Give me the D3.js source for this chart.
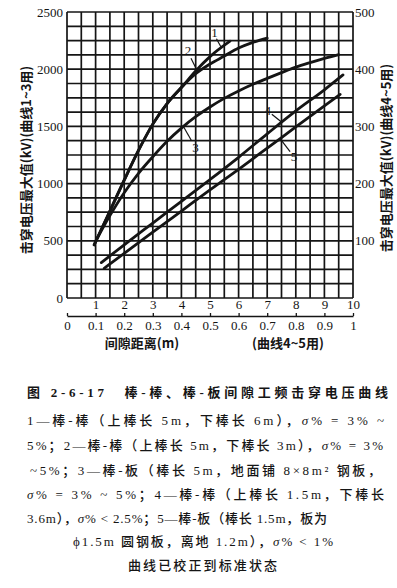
<!DOCTYPE html>
<html>
<head>
<meta charset="utf-8">
<script src="https://cdn.jsdelivr.net/npm/d3@7"></script>
<style>
body { margin: 0; background: #fff; }
svg { display: block; }
</style>
</head>
<body>
<div id="chart"></div>
<script>
// curves 1-3: gap (m, 1..10) vs kV, left axis
const curve1 = [[0.95,465],[1.5,760],[2.0,1030],[2.5,1290],[3.0,1520],[3.5,1700],[4.0,1840],[4.5,1985],[5.0,2110],[5.7,2245]];
const curve2 = [[0.95,465],[1.5,760],[2.0,1030],[2.5,1290],[3.0,1520],[3.5,1700],[4.0,1840],[4.5,1960],[5.0,2045],[5.5,2115],[6.0,2185],[6.5,2235],[7.0,2272]];
const curve3 = [[1.02,505],[1.5,720],[2.0,920],[2.5,1090],[3.0,1235],[3.5,1370],[4.0,1485],[4.5,1585],[5.0,1670],[5.5,1745],[6.0,1810],[6.5,1868],[7.0,1920],[7.5,1970],[8.0,2018],[8.5,2058],[9.0,2095],[9.5,2128]];
// curves 4-5: gap (m, 0.1..1) vs kV, right axis
const curve4 = [[0.12,62],[0.2,93],[0.3,131],[0.4,169],[0.5,207],[0.6,246],[0.7,287],[0.8,327],[0.9,364],[0.965,390]];
const curve5 = [[0.13,52],[0.2,78],[0.3,115],[0.4,152],[0.5,189],[0.6,225],[0.7,262],[0.8,299],[0.9,336],[0.955,356]];

const leftTicks = [0, 500, 1000, 1500, 2000, 2500];
const rightTicks = [100, 200, 300, 400, 500];
const topTicks = [1, 2, 3, 4, 5, 6, 7, 8, 9, 10];
const bottomTicks = [0, 0.1, 0.2, 0.3, 0.4, 0.5, 0.6, 0.7, 0.8, 0.9, 1];

const leftTitle = "击穿电压最大值(kV)(曲线1~3用)";
const rightTitle = "击穿电压最大值(kV)(曲线4~5用)";
const xTitle = "间隙距离(m)";
const xTitle2 = "(曲线4~5用)";

const captionLines = [
  "图 2-6-17　棒-棒、棒-板间隙工频击穿电压曲线",
  "1—棒-棒（上棒长 5m，下棒长 6m），σ% = 3% ~",
  "5%；2—棒-棒（上棒长 5m，下棒长 3m），σ% = 3%",
  "~5%；3—棒-板（棒长 5m，地面铺 8×8m² 钢板，",
  "σ% = 3% ~ 5%；4—棒-棒（上棒长 1.5m，下棒长",
  "3.6m），σ% < 2.5%；5—棒-板（棒长 1.5m，板为",
  "ϕ1.5m 圆钢板，离地 1.2m），σ% < 1%",
  "曲线已校正到标准状态"
];

// layout
const W = 397, H = 588;
const plot = {left: 67, right: 353, top: 12, bottom: 298};
// [x start, x end, baseline] for each caption line
const captionLayout = [[27,388,397],[27,384,425],[27,383,450],[30,381,475],[27,384,499],[27,327,523],[73,333,546],[128,277,570]];

const svg = d3.select("#chart").append("svg")
    .attr("width", W)
    .attr("height", H)
    .style("background", "#fff");

const x = d3.scaleLinear().domain([0, 10]).range([plot.left, plot.right]);
const x2 = d3.scaleLinear().domain([0, 1]).range([plot.left, plot.right]);
const yL = d3.scaleLinear().domain([0, 2500]).range([plot.bottom, plot.top]);
const yR = d3.scaleLinear().domain([0, 500]).range([plot.bottom, plot.top]);

const ink = "#151515";
const serif = "Liberation Serif, Times New Roman, DejaVu Serif, Noto Sans CJK SC, serif";
const hei = "Noto Sans CJK SC, sans-serif";

// grid
const grid = svg.append("g").attr("stroke", ink).attr("stroke-width", 1.7);
grid.selectAll("line.v").data(d3.range(0, 10.01, 0.5)).enter().append("line")
    .attr("x1", d => x(d)).attr("x2", d => x(d))
    .attr("y1", plot.top).attr("y2", plot.bottom);
grid.selectAll("line.h").data(d3.range(0, 2501, 125)).enter().append("line")
    .attr("y1", d => yL(d)).attr("y2", d => yL(d))
    .attr("x1", plot.left).attr("x2", plot.right);

// axes
function styleAxis(g) {
    g.attr("font-family", null).attr("font-size", null);
    g.select(".domain").remove();
    g.selectAll("text").style("font-family", serif).style("font-size", "13px").attr("fill", ink);
}
svg.append("g").attr("transform", `translate(${plot.left},0)`)
    .call(d3.axisLeft(yL).tickValues(leftTicks).tickFormat(d3.format("d")).tickSize(0).tickPadding(4))
    .call(styleAxis);
svg.append("g").attr("transform", `translate(${plot.right},0)`)
    .call(d3.axisRight(yR).tickValues(rightTicks).tickFormat(d3.format("d")).tickSize(0).tickPadding(2))
    .call(styleAxis);
svg.append("g").attr("transform", `translate(0,${plot.bottom})`)
    .call(d3.axisBottom(x).tickValues(topTicks).tickSize(0).tickPadding(2))
    .call(styleAxis);
const ax2 = svg.append("g").attr("transform", `translate(0,316)`)
    .call(d3.axisBottom(x2).tickValues(bottomTicks).tickFormat(d3.format("~g")).tickSizeInner(-3).tickSizeOuter(0).tickPadding(5));
ax2.attr("font-family", null).attr("font-size", null);
ax2.selectAll("text").style("font-family", serif).style("font-size", "13px").attr("fill", ink);
ax2.select(".domain").attr("stroke", ink).attr("stroke-width", 1.3);
ax2.selectAll(".tick line").attr("stroke", ink).attr("stroke-width", 1.3);

// curves
const lineL = d3.line().x(d => x(d[0])).y(d => yL(d[1])).curve(d3.curveMonotoneX);
const lineR = d3.line().x(d => x2(d[0])).y(d => yR(d[1])).curve(d3.curveMonotoneX);
const curves = [
    {id: "1", data: curve1, gen: lineL},
    {id: "2", data: curve2, gen: lineL},
    {id: "3", data: curve3, gen: lineL},
    {id: "4", data: curve4, gen: lineR},
    {id: "5", data: curve5, gen: lineR}
];
svg.append("g").selectAll("path").data(curves).enter().append("path")
    .attr("d", c => c.gen(c.data))
    .attr("fill", "none")
    .attr("stroke", ink)
    .attr("stroke-width", 2.8)
    .attr("stroke-linecap", "round");

// curve labels: curve, x on curve, leader end offset, text offset
const labels = [
    {id: "1", at: 5.4, lx: -5, ly: -9, tx: -7, ty: -11},
    {id: "2", at: 4.58, lx: -7, ly: -14, tx: -10, ty: -17},
    {id: "3", at: 4.07, lx: 8, ly: 14, tx: 12, ty: 25},
    {id: "4", at: 0.751, lx: -10, ly: -8, tx: -14, ty: -7},
    {id: "5", at: 0.745, lx: 10, ly: 13, tx: 14, ty: 22}
];
function onCurve(c, v) {
    const d = c.data;
    const i = Math.max(1, Math.min(d.length - 1, d3.bisector(p => p[0]).left(d, v)));
    const a = d[i - 1], b = d[i];
    const t = (v - a[0]) / (b[0] - a[0]);
    const val = a[1] + t * (b[1] - a[1]);
    return c.gen === lineL ? [x(v), yL(val)] : [x2(v), yR(val)];
}
const lab = svg.append("g");
labels.forEach(l => {
    const c = curves.find(k => k.id === l.id);
    const p = onCurve(c, l.at);
    lab.append("line")
        .attr("x1", p[0]).attr("y1", p[1])
        .attr("x2", p[0] + l.lx).attr("y2", p[1] + l.ly)
        .attr("stroke", ink).attr("stroke-width", 1.2);
    lab.append("text")
        .attr("x", p[0] + l.tx).attr("y", p[1] + l.ty)
        .attr("text-anchor", "middle")
        .style("font-family", serif).style("font-size", "13px").attr("fill", ink)
        .text(l.id);
});

// axis titles
function title(sel, s) {
    sel.attr("text-anchor", "middle")
        .style("font-family", hei).style("font-weight", "bold").style("font-size", "13px")
        .attr("fill", ink).text(s);
}
svg.append("text").attr("transform", "translate(31,160) rotate(-90)").call(title, leftTitle);
svg.append("text").attr("transform", "translate(391,158) rotate(-90)").call(title, rightTitle);
svg.append("text").attr("x", 142).attr("y", 348).call(title, xTitle);
svg.append("text").attr("x", 288).attr("y", 348).call(title, xTitle2);

// caption
captionLines.forEach((s, i) => {
    const [x0, x1, base] = captionLayout[i];
    const t = svg.append("text")
        .attr("x", x0).attr("y", base)
        .style("font-family", serif).style("font-size", "13px").attr("fill", ink)
        .style("font-weight", i === 0 ? "bold" : "500")
        .attr("textLength", x1 - x0)
        .attr("lengthAdjust", "spacing");
    s.split("σ").forEach((part, j) => {
        if (j > 0) t.append("tspan").style("font-style", "italic").text("σ");
        if (part) t.append("tspan").text(part);
    });
});
</script>
</body>
</html>
